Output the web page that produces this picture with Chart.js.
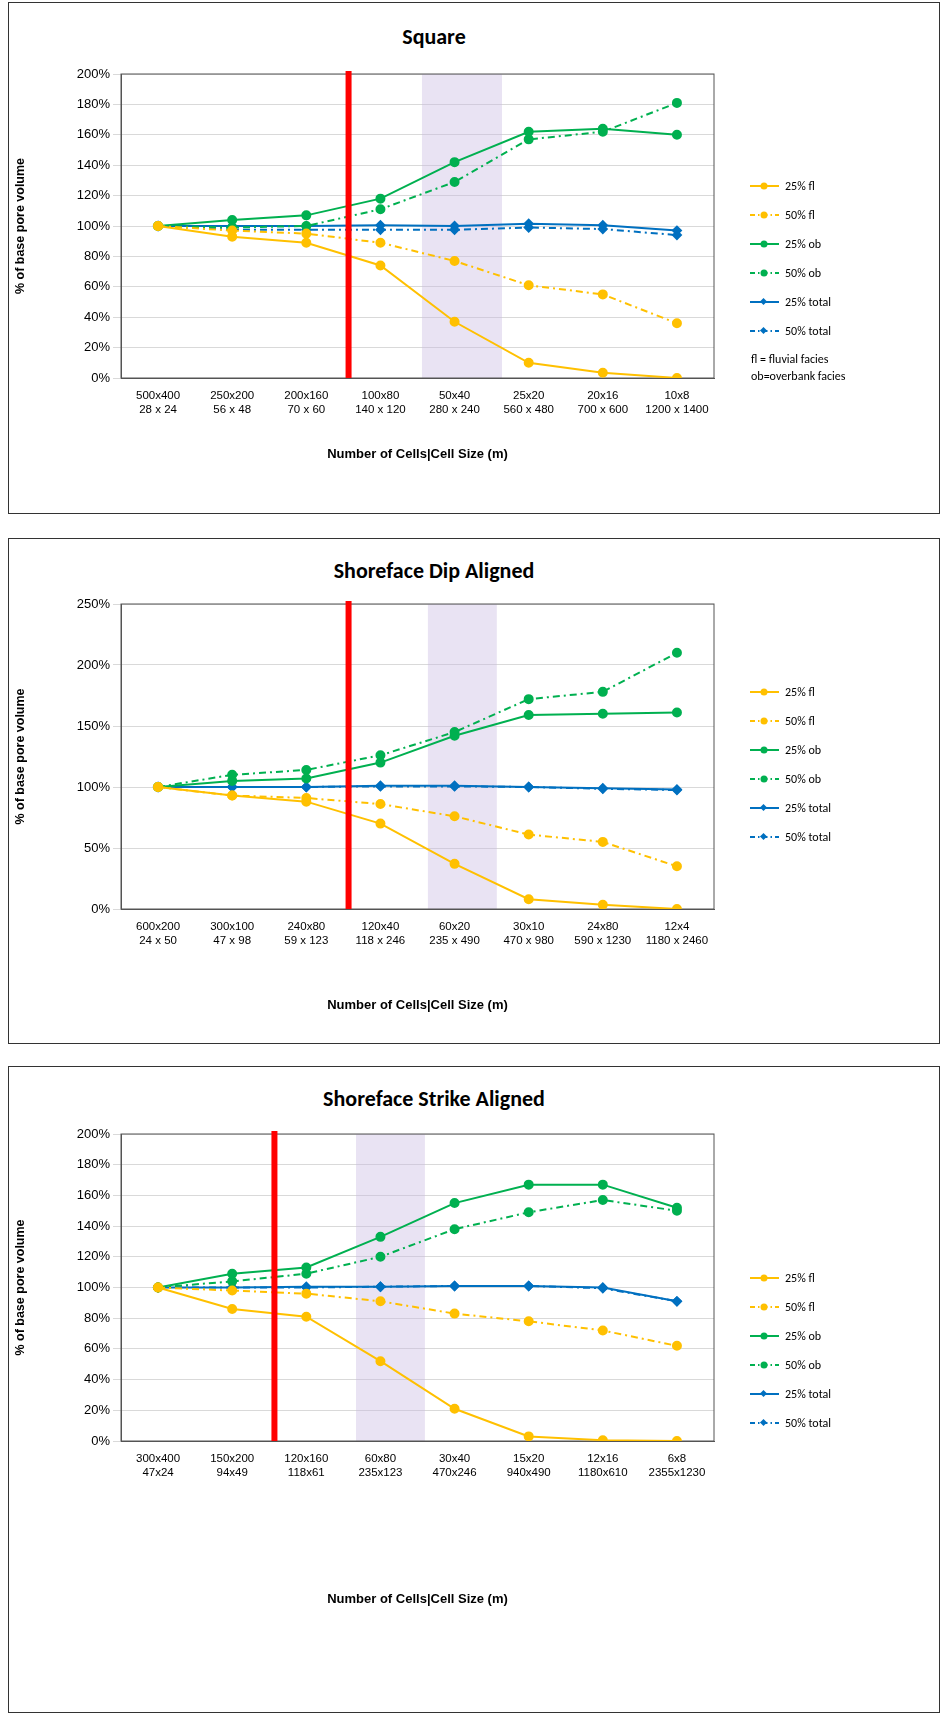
<!DOCTYPE html>
<html>
<head>
<meta charset="utf-8">
<script src="https://cdn.jsdelivr.net/npm/chart.js@4.4.0/dist/chart.umd.min.js"></script>
<style>
  body { margin: 0; background: #fff; font-family: Calibri, "Liberation Sans", Arial, sans-serif; }
  .panel { position: absolute; left: 8px; width: 930px; border: 1px solid #333; background: #fff; }
  .panel canvas { position: absolute; left: 0; top: 0; }
  .ttl { position: absolute; width: 850px; text-align: center; font-weight: bold; font-size: 22px; left: 0; }
  .legend { position: absolute; left: 740px; font-size: 12px; color: #000; }
  .legend div { height: 29px; display: flex; align-items: center; }
  .legend svg { margin-right: 4px; }
  .note { position: absolute; left: 742px; font-size: 12px; line-height: 17px; }
</style>
</head>
<body>
<div class="panel" id="p1" style="top:2px;height:510px"><div class="ttl" style="top:20px">Square</div><canvas id="c1"></canvas></div>
<div class="panel" id="p2" style="top:538px;height:504px"><div class="ttl" style="top:18px">Shoreface Dip Aligned</div><canvas id="c2"></canvas></div>
<div class="panel" id="p3" style="top:1066px;height:645px"><div class="ttl" style="top:18px">Shoreface Strike Aligned</div><canvas id="c3"></canvas></div>
<script>
// ---- data ----
const seriesNames = ["25% fl", "50% fl", "25% ob", "50% ob", "25% total", "50% total"];

const squareCells = [["500x400", "28 x 24"], ["250x200", "56 x 48"], ["200x160", "70 x 60"], ["100x80", "140 x 120"], ["50x40", "280 x 240"], ["25x20", "560 x 480"], ["20x16", "700 x 600"], ["10x8", "1200 x 1400"]];
const squareFl25 = [100, 93, 89, 74, 37, 10, 3.5, 0];
const squareFl50 = [100, 97, 95, 89, 77, 61, 55, 36];
const squareOb25 = [100, 104, 107, 118, 142, 162, 164, 160];
const squareOb50 = [100, 99, 100, 111, 129, 157, 162, 181];
const squareTot25 = [100, 100, 100, 100.5, 100, 101.5, 100.5, 97];
const squareTot50 = [100, 97.5, 97.5, 97.5, 97.5, 99, 98, 94];

const dipCells = [["600x200", "24 x 50"], ["300x100", "47 x 98"], ["240x80", "59 x 123"], ["120x40", "118 x 246"], ["60x20", "235 x 490"], ["30x10", "470 x 980"], ["24x80", "590 x 1230"], ["12x4", "1180 x 2460"]];
const dipFl25 = [100, 93, 88, 70, 37, 8, 3.5, 0];
const dipFl50 = [100, 93, 91, 86, 76, 61, 55, 35];
const dipOb25 = [100, 105, 107, 120, 142, 159, 160, 161];
const dipOb50 = [100, 110, 114, 126, 145, 172, 178, 210];
const dipTot25 = [100, 100, 100, 101, 101, 100, 99, 98];
const dipTot50 = [100, 100, 100, 100.5, 100.5, 100, 98.5, 97.5];

const strikeCells = [["300x400", "47x24"], ["150x200", "94x49"], ["120x160", "118x61"], ["60x80", "235x123"], ["30x40", "470x246"], ["15x20", "940x490"], ["12x16", "1180x610"], ["6x8", "2355x1230"]];
const strikeFl25 = [100, 86, 81, 52, 21, 3, 0.5, 0];
const strikeFl50 = [100, 98, 96, 91, 83, 78, 72, 62];
const strikeOb25 = [100, 109, 113, 133, 155, 167, 167, 152];
const strikeOb50 = [100, 104, 109, 120, 138, 149, 157, 150];
const strikeTot25 = [100, 100, 100.5, 100.5, 101, 101, 100, 91];
const strikeTot50 = [100, 100, 100, 100.5, 101, 101, 99.5, 91];

// red line position and shaded band, in category index units
const squareMarks = { red: 2.57, band: [3.56, 4.64] };
const dipMarks = { red: 2.57, band: [3.64, 4.57] };
const strikeMarks = { red: 1.57, band: [2.67, 3.6] };

const colors = ["#FFC000", "#FFC000", "#00B050", "#00B050", "#0070C0", "#0070C0"];
const dashDot = [7, 4, 2, 4];

function buildLegend(panel, top, note) {
  const lg = document.createElement("div");
  lg.className = "legend";
  lg.style.top = top + "px";
  seriesNames.forEach((n, i) => {
    const dash = i % 2 ? 'stroke-dasharray="5,3,1.5,3"' : "";
    const marker = i < 4
      ? '<circle cx="15" cy="6" r="3.5" fill="' + colors[i] + '"/>'
      : '<rect x="12" y="3" width="5" height="5" transform="rotate(45 14.5 5.5)" fill="' + colors[i] + '"/>';
    lg.innerHTML += '<div><svg width="32" height="12"><line x1="1" y1="6" x2="30" y2="6" stroke="' + colors[i] + '" stroke-width="2" ' + dash + '/>' + marker + "</svg>" + n + "</div>";
  });
  panel.appendChild(lg);
  if (note) {
    const nt = document.createElement("div");
    nt.className = "note";
    nt.style.top = (top + 180) + "px";
    nt.innerHTML = "fl = fluvial facies<br>ob=overbank facies";
    panel.appendChild(nt);
  }
}

const overlay = {
  id: "overlay",
  beforeDatasetsDraw(chart, args, opts) {
    const { ctx, chartArea: a, scales: { x } } = chart;
    ctx.save();
    ctx.fillStyle = "rgba(200,185,225,0.4)";
    const b0 = x.getPixelForValue(opts.band[0]), b1 = x.getPixelForValue(opts.band[1]);
    ctx.fillRect(b0, a.top, b1 - b0, a.bottom - a.top);
    ctx.strokeStyle = "#555";
    ctx.lineWidth = 1;
    ctx.strokeRect(a.left, a.top, a.right - a.left, a.bottom - a.top);
    ctx.restore();
  },
  afterDatasetsDraw(chart, args, opts) {
    const { ctx, chartArea: a, scales: { x } } = chart;
    const r = x.getPixelForValue(opts.red);
    ctx.save();
    ctx.fillStyle = "#FF0000";
    ctx.fillRect(r - 3, a.top - 3, 6, a.bottom - a.top + 3);
    ctx.restore();
  }
};

function makeChart(id, w, h, cells, series, yMax, yStep, marks, padTop, xHeight, padBottom) {
  const cv = document.getElementById(id);
  cv.width = w; cv.height = h;
  cv.style.width = w + "px"; cv.style.height = h + "px";
  const datasets = series.map((d, i) => ({
    label: seriesNames[i],
    data: d,
    borderColor: colors[i],
    backgroundColor: colors[i],
    borderWidth: 2,
    borderDash: i % 2 ? dashDot : [],
    pointStyle: i < 4 ? "circle" : "rectRot",
    pointRadius: 4,
    tension: 0
  }));
  return new Chart(cv, {
    type: "line",
    data: { labels: cells, datasets: datasets },
    plugins: [overlay],
    options: {
      responsive: false,
      animation: false,
      layout: { padding: { top: padTop, right: 225, left: 0, bottom: padBottom } },
      plugins: { legend: { display: false }, tooltip: { enabled: false }, overlay: marks },
      scales: {
        x: {
          offset: true,
          grid: { display: false },
          border: { color: "#555" },
          ticks: { color: "#000", font: { size: 11.5 }, maxRotation: 0, autoSkip: false },
          title: { display: true, text: "Number of Cells|Cell Size (m)", color: "#000", font: { size: 13, weight: "bold" }, padding: { top: 20 } },
          afterFit(s) { s.height = xHeight; }
        },
        y: {
          min: 0, max: yMax,
          grid: { color: "#d9d9d9" },
          border: { color: "#555" },
          ticks: { stepSize: yStep, color: "#000", font: { size: 13 }, callback: v => v + "%" },
          title: { display: true, text: "% of base pore volume", color: "#000", font: { size: 12.5, weight: "bold" } },
          afterFit(s) { s.width = 112; }
        }
      }
    }
  });
}

makeChart("c1", 930, 510, squareCells, [squareFl25, squareFl50, squareOb25, squareOb50, squareTot25, squareTot50], 200, 20, squareMarks, 71, 88, 47);
makeChart("c2", 930, 504, dipCells, [dipFl25, dipFl50, dipOb25, dipOb50, dipTot25, dipTot50], 250, 50, dipMarks, 65, 108, 26);
makeChart("c3", 930, 645, strikeCells, [strikeFl25, strikeFl50, strikeOb25, strikeOb50, strikeTot25, strikeTot50], 200, 20, strikeMarks, 67, 170, 101);

buildLegend(document.getElementById("p1"), 168, true);
buildLegend(document.getElementById("p2"), 138, false);
buildLegend(document.getElementById("p3"), 196, false);
</script>
</body>
</html>
